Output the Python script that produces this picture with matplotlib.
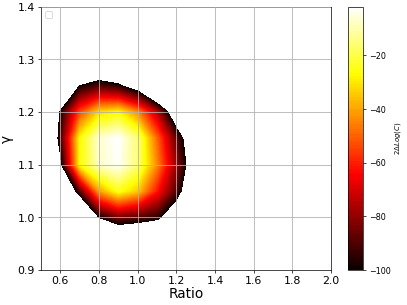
import numpy as np
import matplotlib
matplotlib.use("Agg")
import matplotlib.pyplot as plt

# grid of the surface
ratio = [0.5, 0.6, 0.7, 0.8, 0.9, 1.0, 1.1, 1.2, 1.3, 1.4]
gamma = [0.90, 0.95, 1.00, 1.05, 1.10, 1.15, 1.20, 1.25, 1.30, 1.35]
# 2*Delta log(C), rows = gamma, columns = ratio
row_090 = [-200, -200, -200, -200, -200, -200, -200, -200, -200, -200]
row_095 = [-200, -190, -170, -150, -140, -140, -150, -170, -190, -200]
row_100 = [-190, -170, -150, -100, -85, -90, -95, -120, -160, -190]
row_105 = [-180, -140, -90, -42, -25, -35, -62, -90, -130, -170]
row_110 = [-170, -105, -28, -8, -3, -16, -45, -80, -120, -160]
row_115 = [-150, -93, -28, -7, -2, -16, -50, -88, -123, -160]
row_120 = [-160, -98, -55, -33, -28, -45, -75, -119, -160, -190]
row_125 = [-180, -150, -100, -90, -97, -114, -150, -170, -190, -200]
row_130 = [-200, -190, -160, -140, -140, -160, -180, -190, -200, -200]
row_135 = [-200, -200, -200, -200, -200, -200, -200, -200, -200, -200]

values = np.array([row_090, row_095, row_100, row_105, row_110,
                   row_115, row_120, row_125, row_130, row_135], dtype=float)

xticks = [0.6, 0.8, 1.0, 1.2, 1.4, 1.6, 1.8, 2.0]
yticks = [0.9, 1.0, 1.1, 1.2, 1.3, 1.4]
cticks = [-20, -40, -60, -80, -100]

fig = plt.figure(figsize=(6.4, 4.8), dpi=407 / 6.4)
ax = fig.add_axes([0.1007, 0.1148, 0.7125, 0.8622])
cax = fig.add_axes([0.855, 0.1148, 0.037, 0.8622])

X, Y = np.meshgrid(ratio, gamma)
levels = np.linspace(-100, values.max(), 100)
cs = ax.contourf(X, Y, values, levels=levels, cmap='hot')

ax.set_xlim(0.5, 2.0)
ax.set_ylim(0.9, 1.4)
ax.set_xticks(xticks)
ax.set_yticks(yticks)
ax.tick_params(labelsize=12.5)
ax.grid(True, color='#b0b0b0', linewidth=0.9, zorder=5)
ax.set_axisbelow(False)
ax.set_xlabel('Ratio', fontsize=15.5, labelpad=1)
ax.set_ylabel('γ', fontsize=15.5)
ax.legend(loc='upper left')

cb = fig.colorbar(cs, cax=cax)
cb.set_ticks(cticks)
cb.ax.tick_params(labelsize=9)
cb.set_label(r'$2\Delta Log(C)$', fontsize=8, labelpad=2)

fig.savefig('out.png', dpi=407 / 6.4)
